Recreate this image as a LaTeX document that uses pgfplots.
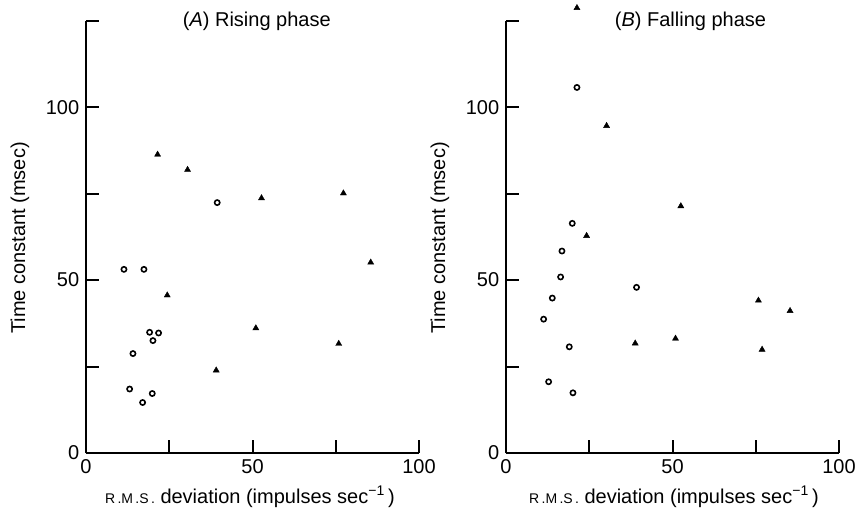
\documentclass[border=0pt]{standalone}
\usepackage{fontspec}
\setmainfont{Liberation Sans}
\usepackage{pgfplots}
\pgfplotsset{compat=1.18}
\begin{document}
\fontsize{20}{24}\selectfont
\begin{tikzpicture}
\useasboundingbox (0,0) rectangle (858pt,509pt);
\pgfplotsset{
 myax/.style={
  scale only axis, width=333pt, height=432.3pt,
  anchor=south west,
  xmin=0,xmax=100,ymin=0,ymax=125,
  axis x line*=bottom, axis y line*=left,
  axis line style={-, line width=2pt},
  xtick={0,25,50,75,100}, xticklabels={0,,50,,100},
  ytick={0,25,50,75,100,125}, yticklabels={0,,50,,100,},
  tick align=inside, major tick length=13pt,
  tick style={line width=2pt, black},
  clip=false,
  /pgf/number format/assume math mode=true,
  ticklabel style={font=\fontsize{20}{24}\selectfont},
 },
 circ/.style={only marks, mark=o, mark size=2.6pt, line width=1.6pt, black},
 tri/.style={only marks, mark=triangle*, mark size=3.5pt, black, mark options={fill=black}},
}
% Panel A
\begin{axis}[myax, at={(86pt,56pt)}]
\addplot[circ] coordinates {
(11.4,53.1) (17.4,53.1) (39.4,72.4) (19.1,34.9) (21.8,34.7)
(20.1,32.5) (14.1,28.75) (13.1,18.5) (19.9,17.2) (17.0,14.6)
};
\addplot[tri] coordinates {
(21.5,86.3) (30.5,81.9) (52.7,73.7) (77.3,75.1) (85.5,55.1)
(24.4,45.6) (51.0,36.1) (75.9,31.6) (39.1,23.9)
};
\node[anchor=base] at (axis cs:51.3,123.2) {(\textit{A}) Rising phase};
\end{axis}
% Panel B
\begin{axis}[myax, at={(506pt,56pt)}]
\addplot[circ] coordinates {
(21.3,105.7) (19.9,66.4) (16.8,58.4) (16.4,50.9) (13.9,44.8)
(11.3,38.7) (19.0,30.7) (12.8,20.6) (20.1,17.4) (39.2,47.9)
};
\addplot[tri] coordinates {
(21.3,128.7) (30.2,94.6) (52.5,71.4) (24.2,62.8) (75.8,44.1)
(85.3,41.1) (38.8,31.7) (50.9,33.1) (76.9,29.9)
};
\node[anchor=base] at (axis cs:55.4,123.2) {(\textit{B}) Falling phase};
\end{axis}
% axis labels
\node[rotate=90] at (20pt,271pt) {Time constant (msec)};
\node[rotate=90] at (440pt,271pt) {Time constant (msec)};
\node[anchor=base] at (250pt,6pt) {{\fontsize{14}{16}\selectfont R\,.M\,.S\,.} deviation (impulses sec\textsuperscript{−1}\,)};
\node[anchor=base] at (674pt,6pt) {{\fontsize{14}{16}\selectfont R\,.M\,.S\,.} deviation (impulses sec\textsuperscript{−1}\,)};
\end{tikzpicture}
\end{document}
